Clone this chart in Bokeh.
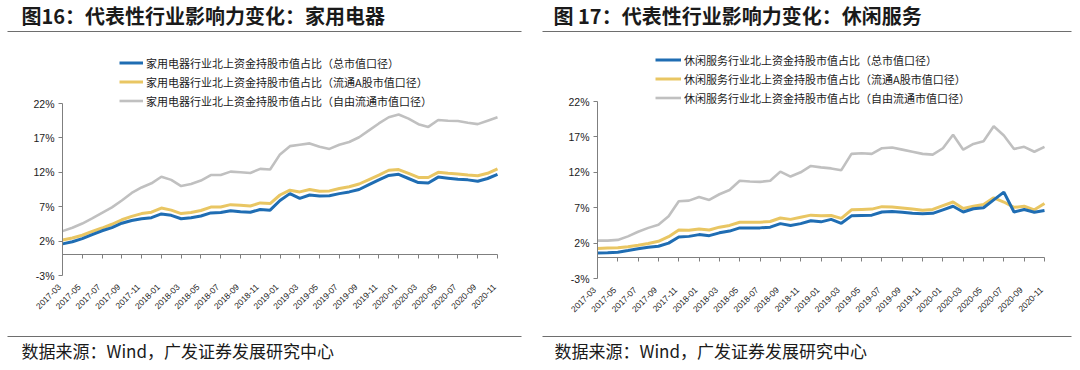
import math
from bokeh.plotting import figure
from bokeh.models import (Label, Legend, LegendItem, LinearAxis, FixedTicker,
                          PrintfTickFormatter, Range1d, BoxAnnotation, ColumnDataSource)
from bokeh.layouts import row
from bokeh.embed import file_html
from bokeh.resources import INLINE

# ---------------- data ----------------
months = ["2017-03", "2017-04", "2017-05", "2017-06", "2017-07", "2017-08", "2017-09",
          "2017-10", "2017-11", "2017-12",
          "2018-01", "2018-02", "2018-03", "2018-04", "2018-05", "2018-06", "2018-07",
          "2018-08", "2018-09", "2018-10", "2018-11", "2018-12",
          "2019-01", "2019-02", "2019-03", "2019-04", "2019-05", "2019-06", "2019-07",
          "2019-08", "2019-09", "2019-10", "2019-11", "2019-12",
          "2020-01", "2020-02", "2020-03", "2020-04", "2020-05", "2020-06", "2020-07",
          "2020-08", "2020-09", "2020-10", "2020-11"]

tick_labels = ["2017-03", "2017-05", "2017-07", "2017-09", "2017-11",
               "2018-01", "2018-03", "2018-05", "2018-07", "2018-09", "2018-11",
               "2019-01", "2019-03", "2019-05", "2019-07", "2019-09", "2019-11",
               "2020-01", "2020-03", "2020-05", "2020-07", "2020-09", "2020-11"]

y_ticks = [-3, 2, 7, 12, 17, 22]

# 家用电器 (%)
ha_total = [1.6, 1.9, 2.35, 2.95, 3.5, 3.95, 4.6, 5.0, 5.25, 5.4,
            5.95, 5.75, 5.25, 5.4, 5.65, 6.1, 6.15, 6.4, 6.25, 6.2,
            6.6, 6.5, 7.9, 8.9, 8.2, 8.7, 8.55, 8.6, 8.9, 9.15,
            9.5, 10.2, 10.9, 11.55, 11.7, 11.1, 10.5, 10.45, 11.3, 11.15,
            11.0, 10.9, 10.7, 11.1, 11.7]
ha_float = [2.15, 2.45, 2.85, 3.4, 3.9, 4.45, 5.1, 5.6, 6.0, 6.2,
            6.8, 6.5, 6.0, 6.15, 6.45, 6.95, 6.95, 7.3, 7.2, 7.1,
            7.55, 7.45, 8.7, 9.4, 9.15, 9.5, 9.25, 9.3, 9.65, 9.9,
            10.3, 10.95, 11.6, 12.3, 12.4, 11.85, 11.25, 11.25, 12.0, 11.85,
            11.75, 11.6, 11.5, 11.85, 12.5]
ha_free = [3.45, 3.95, 4.55, 5.3, 6.1, 6.9, 7.9, 9.0, 9.8, 10.4,
           11.35, 10.9, 10.0, 10.3, 10.8, 11.6, 11.6, 12.1, 12.0, 11.9,
           12.5, 12.4, 14.6, 15.8, 16.0, 16.2, 15.7, 15.4, 16.0, 16.4,
           17.1, 18.1, 19.1, 20.0, 20.4, 19.8, 19.0, 18.6, 19.6, 19.5,
           19.45, 19.2, 19.0, 19.5, 20.0]

# 休闲服务 (%)
ls_total = [0.6, 0.65, 0.72, 0.95, 1.2, 1.4, 1.55, 2.0, 2.85, 2.95,
            3.2, 3.05, 3.45, 3.7, 4.15, 4.15, 4.15, 4.25, 4.75, 4.5,
            4.75, 5.15, 5.0, 5.35, 4.8, 5.85, 5.9, 5.95, 6.4, 6.45,
            6.35, 6.2, 6.15, 6.2, 6.7, 7.2, 6.4, 6.85, 7.0, 8.1,
            9.2, 6.4, 6.75, 6.35, 6.6]
ls_float = [1.25, 1.3, 1.35, 1.5, 1.7, 1.95, 2.25, 2.9, 3.85, 3.8,
            4.0, 3.85, 4.25, 4.5, 4.95, 4.95, 4.95, 5.05, 5.55, 5.35,
            5.65, 5.95, 5.85, 5.9, 5.5, 6.7, 6.75, 6.8, 7.15, 7.1,
            6.95, 6.8, 6.65, 6.75, 7.3, 7.8, 6.9, 7.2, 7.45, 8.4,
            7.8, 7.05, 7.2, 6.7, 7.6]
ls_free = [2.35, 2.35, 2.45, 2.95, 3.6, 4.15, 4.6, 5.8, 7.9, 8.0,
           8.5, 8.1, 8.9, 9.5, 10.8, 10.7, 10.65, 10.8, 12.1, 11.4,
           12.0, 12.9, 12.7, 12.55, 12.3, 14.6, 14.7, 14.6, 15.4, 15.5,
           15.2, 14.9, 14.6, 14.5, 15.4, 17.3, 15.2, 16.0, 16.4, 18.5,
           17.2, 15.3, 15.6, 14.9, 15.6]

ha_names = ["家用电器行业北上资金持股市值占比（总市值口径）",
            "家用电器行业北上资金持股市值占比（流通A股市值口径）",
            "家用电器行业北上资金持股市值占比（自由流通市值口径）"]
ls_names = ["休闲服务行业北上资金持股市值占比（总市值口径）",
            "休闲服务行业北上资金持股市值占比（流通A股市值口径）",
            "休闲服务行业北上资金持股市值占比（自由流通市值口径）"]

title_left = "图16：代表性行业影响力变化：家用电器"
title_right = "图 17：代表性行业影响力变化：休闲服务"
source_text = "数据来源：Wind，广发证券发展研究中心"

# ---------------- style ----------------
BLUE = "#1F6DB3"
YELLOW = "#E9C663"
GRAY = "#C0C0C0"
AXIS = "#7F7F7F"
TXT = "#1A1A1A"
CJK = "Noto Sans CJK SC"
NUM = "Liberation Sans"

xs = list(range(len(months)))
tick_pos = [months.index(t) for t in tick_labels]
Y0, Y1 = y_ticks[0], y_ticks[-1]
M1 = len(months) - 1

PAGE_TOP, PAGE_BOTTOM = 0, 362


def panel(fig_x0, fig_w, fl, fr, ft, fb, title, title_x, names, total, flt, free,
          leg_x, leg_bottom, glyph_w, sep_x0, sep_x1, src_x):
    # the frame covers the whole figure; the plot area is placed with the ranges
    kx = M1 / (fr - fl)
    ky = (Y1 - Y0) / (fb - ft)
    xr = Range1d((fig_x0 - fl) * kx, (fig_x0 + fig_w - fl) * kx)
    yr = Range1d(Y0 + (fb - PAGE_BOTTOM) * ky, Y0 + (fb - PAGE_TOP) * ky)
    shift = 3 * kx
    p = figure(width=fig_w, height=PAGE_BOTTOM - PAGE_TOP, min_border=0,
               x_range=xr, y_range=yr, x_axis_location=None, y_axis_location=None,
               output_backend="svg", toolbar_location=None,
               background_fill_color="white", border_fill_color="white")
    p.outline_line_color = None
    p.xgrid.visible = False
    p.ygrid.visible = False
    p.extra_x_ranges = {"lab": Range1d(xr.start + shift, xr.end + shift)}

    # y axis
    ya = LinearAxis(fixed_location=0, bounds=(Y0, Y1), ticker=FixedTicker(ticks=y_ticks),
                    formatter=PrintfTickFormatter(format="%d%%"),
                    axis_line_color=AXIS, major_tick_line_color=AXIS,
                    major_tick_in=0, major_tick_out=4, minor_tick_line_color=None,
                    major_label_text_font=NUM, major_label_text_font_size="10.5px",
                    major_label_text_color=TXT, major_label_standoff=4)
    p.add_layout(ya, "left")

    # axis line at 0
    zax = LinearAxis(fixed_location=0, bounds=(0, M1), ticker=FixedTicker(ticks=tick_pos),
                     axis_line_color=AXIS, axis_line_width=1,
                     major_tick_line_color=AXIS, major_tick_in=0, major_tick_out=4,
                     minor_tick_line_color=None,
                     major_label_text_font_size="0px", major_label_text_color=None)
    p.add_layout(zax, "below")

    # low category labels
    xa = LinearAxis(fixed_location=Y0, x_range_name="lab", ticker=FixedTicker(ticks=tick_pos),
                    major_label_overrides={i: months[i] for i in tick_pos},
                    axis_line_color=None, major_tick_line_color=None,
                    minor_tick_line_color=None, major_tick_in=0, major_tick_out=0,
                    major_label_orientation=math.pi / 4,
                    major_label_text_font=NUM, major_label_text_font_size="8.5px",
                    major_label_text_color=TXT, major_label_standoff=10)
    p.add_layout(xa, "below")

    src = ColumnDataSource(dict(x=xs, total=total, flt=flt, free=free))
    r_free = p.line("x", "free", source=src, line_color=GRAY, line_width=2.6)
    r_flt = p.line("x", "flt", source=src, line_color=YELLOW, line_width=3)
    r_total = p.line("x", "total", source=src, line_color=BLUE, line_width=3)

    legend = Legend(items=[LegendItem(label=names[0], renderers=[r_total]),
                           LegendItem(label=names[1], renderers=[r_flt]),
                           LegendItem(label=names[2], renderers=[r_free])],
                    location=(leg_x - fig_x0, PAGE_BOTTOM - leg_bottom),
                    orientation="vertical", glyph_width=glyph_w, glyph_height=19,
                    label_height=19, label_standoff=3, spacing=0, padding=0, margin=0,
                    border_line_color=None, background_fill_alpha=0,
                    label_text_font=CJK, label_text_font_size="11px",
                    label_text_color=TXT)
    p.add_layout(legend)

    def lab(text, px, py, size, bold=False):
        return Label(x=px - fig_x0, y=PAGE_BOTTOM - py, x_units="screen", y_units="screen",
                     text=text, text_font=CJK, text_font_size=size,
                     text_font_style="bold" if bold else "normal",
                     text_color=TXT, text_baseline="middle", text_align="left")

    p.add_layout(lab(title, title_x, 15, "20px", bold=True))
    p.add_layout(lab(source_text, src_x, 350, "17px"))

    for yy in (31, 336):
        p.add_layout(BoxAnnotation(left=sep_x0 - fig_x0, right=sep_x1 - fig_x0,
                                   top=PAGE_BOTTOM - yy + 0.6, bottom=PAGE_BOTTOM - yy - 0.6,
                                   left_units="screen", right_units="screen",
                                   top_units="screen", bottom_units="screen",
                                   fill_color="#6E6E6E", fill_alpha=1, line_color=None))
    return p


left = panel(0, 536, 62, 497, 103, 275, title_left, 21, ha_names,
             ha_total, ha_float, ha_free, 119, 110, 24, 7, 521, 21)
right = panel(536, 536, 597, 1044, 101, 278, title_right, 553, ls_names,
              ls_total, ls_float, ls_free, 655, 107, 26, 542, 1071, 554)

layout = row(left, right)
open("out.html", "w").write(file_html(layout, INLINE))
